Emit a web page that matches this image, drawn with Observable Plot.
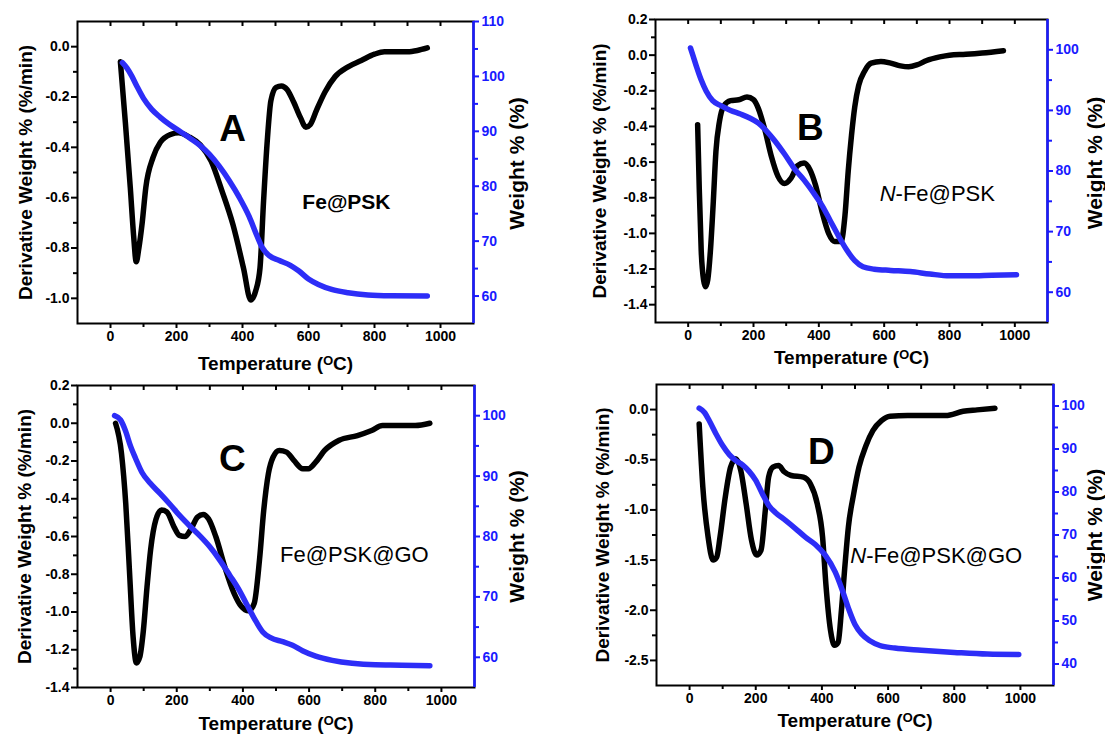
<!DOCTYPE html>
<html>
<head>
<meta charset="utf-8">
<script src="https://cdn.jsdelivr.net/npm/d3@7"></script>
<script src="https://cdn.jsdelivr.net/npm/@observablehq/plot@0.6"></script>
<style>
  html, body { margin: 0; padding: 0; background: #fff; }
  #root { position: relative; width: 1105px; height: 734px; overflow: hidden; background: #fff; }
  .panel { position: absolute; }
</style>
</head>
<body>
<div id="root"></div>
<script>
// ---------------- DATA ----------------
// Panel A: Fe@PSK
const aDtgT = [30,45,60,70,78,86,96,107,129,151,184,206,240,272,305,338,371,403,425,440,453,464,475,486,502,518,535,555,575,592,605,625,650,680,720,760,800,830,900,930,960];
const aDtgV = [-0.06,-0.30,-0.56,-0.75,-0.855,-0.80,-0.70,-0.56,-0.44,-0.38,-0.348,-0.342,-0.36,-0.39,-0.455,-0.574,-0.707,-0.88,-1.007,-0.97,-0.88,-0.61,-0.375,-0.215,-0.162,-0.156,-0.17,-0.22,-0.28,-0.32,-0.31,-0.25,-0.18,-0.12,-0.08,-0.055,-0.03,-0.02,-0.02,-0.015,-0.005];
const aTgaT = [36,50,65,80,100,125,150,180,210,240,270,300,330,360,390,420,445,460,480,510,545,570,600,630,670,720,780,850,960];
const aTgaW = [102.5,101.5,100,98.2,96,94,92.6,91.2,90,88.8,87.5,85.8,83.6,81,78,74.5,70.8,68.8,67.4,66.5,65.6,64.6,63.1,62.1,61.2,60.6,60.2,60.05,60.0];

// Panel B: N-Fe@PSK
const bDtgT = [29,34,40,47,53,60,68,77,85,96,109,130,155,180,200,215,235,255,275,295,315,335,355,372,390,410,430,448,468,480,490,500,510,522,540,560,590,620,650,675,700,730,770,800,850,900,965];
const bDtgV = [-0.39,-0.75,-1.10,-1.26,-1.30,-1.26,-1.10,-0.82,-0.54,-0.37,-0.285,-0.255,-0.25,-0.235,-0.25,-0.30,-0.42,-0.57,-0.68,-0.72,-0.69,-0.62,-0.605,-0.64,-0.73,-0.88,-1.0,-1.045,-1.045,-0.90,-0.65,-0.45,-0.29,-0.17,-0.09,-0.045,-0.035,-0.045,-0.06,-0.065,-0.055,-0.03,-0.01,0.0,0.005,0.012,0.025];
const bTgaT = [7,15,25,40,55,75,100,130,160,190,215,240,265,295,325,355,385,410,435,460,485,510,535,570,620,680,740,800,860,930,1005];
const bTgaW = [100.3,99,97.3,95,93.2,91.6,90.8,90,89.4,88.7,87.9,86.6,85.0,82.8,80.4,78.5,76.3,74.3,71.8,69.3,67.0,65.2,64.2,63.8,63.6,63.4,63.0,62.7,62.7,62.8,62.9];

// Panel C: Fe@PSK@GO
const cDtgT = [15,33,46,57,68,78,88,99,110,121,137,154,170,192,208,225,241,263,280,296,318,345,373,395,417,434,450,463,477,491,510,532,554,581,598,620,647,691,746,789,822,877,921,965];
const cDtgV = [0.0,-0.16,-0.43,-0.78,-1.13,-1.27,-1.24,-1.10,-0.87,-0.67,-0.51,-0.46,-0.47,-0.55,-0.594,-0.60,-0.567,-0.497,-0.483,-0.506,-0.60,-0.76,-0.90,-0.97,-0.994,-0.955,-0.726,-0.46,-0.267,-0.18,-0.144,-0.153,-0.197,-0.241,-0.241,-0.206,-0.144,-0.09,-0.065,-0.038,-0.012,-0.012,-0.012,0.0];
const cTgaT = [12,30,45,60,75,95,120,150,180,210,240,270,300,330,360,390,415,440,460,485,520,550,580,620,670,730,800,880,965];
const cTgaW = [100,99.3,97.5,95,93,90.6,88.8,87.1,85.3,83.4,81.7,80.1,78.3,76.1,73.6,71,68.4,65.9,64.2,63.2,62.6,62.0,61.1,60.2,59.5,59.0,58.75,58.7,58.6];

// Panel D: N-Fe@PSK@GO
const dDtgT = [29,40,56,71,82,92,108,124,140,155,171,187,203,216,229,239,252,269,286,307,344,365,386,402,412,426,438,449,459,470,480,496,512,533,554,580,606,659,722,774,827,869,923];
const dDtgV = [-0.143,-0.77,-1.27,-1.50,-1.47,-1.27,-0.87,-0.574,-0.49,-0.61,-0.94,-1.30,-1.45,-1.40,-1.0,-0.67,-0.574,-0.557,-0.62,-0.657,-0.674,-0.74,-0.94,-1.27,-1.74,-2.20,-2.35,-2.32,-2.0,-1.54,-1.17,-0.84,-0.574,-0.36,-0.21,-0.11,-0.066,-0.06,-0.06,-0.06,-0.017,-0.003,0.013];
const dTgaT = [29,45,60,80,100,120,140,160,180,200,220,240,260,290,320,350,380,410,440,460,480,500,520,545,575,620,700,800,900,995];
const dTgaW = [99.5,98.5,96.5,93.5,90.8,88.7,87.3,86.3,84.8,82.7,79.6,76.8,75.2,73.4,71.5,69.5,67.8,65.3,61.4,57.5,53,49.2,47,45.4,44.3,43.7,43.2,42.7,42.3,42.2];

// Tick labels
const xMajor = [0,200,400,600,800,1000];
const xMinor = [100,300,500,700,900];
const xTop = [0,100,200,300,400,500,600,700,800,900,1000];
const aLeftMajor = [0,-0.2,-0.4,-0.6,-0.8,-1.0];
const aLeftMinor = [-0.1,-0.3,-0.5,-0.7,-0.9];
const aRightMajor = [60,70,80,90,100,110];
const aRightMinor = [65,75,85,95,105];
const bcLeftMajor = [0.2,0,-0.2,-0.4,-0.6,-0.8,-1.0,-1.2,-1.4];
const bcLeftMinor = [0.1,-0.1,-0.3,-0.5,-0.7,-0.9,-1.1,-1.3];
const bcRightMajor = [60,70,80,90,100];
const bcRightMinor = [65,75,85,95];
const dLeftMajor = [0,-0.5,-1.0,-1.5,-2.0,-2.5];
const dLeftMinor = [-0.25,-0.75,-1.25,-1.75,-2.25];
const dRightMajor = [40,50,60,70,80,90,100];
const dRightMinor = [45,55,65,75,85,95];

const xLabel = "Temperature (\u1D3CC)";
const leftLabel = "Derivative Weight % (%/min)";
const rightLabel = "Weight % (%)";

// ---------------- DRAWING ----------------
const BLUE_LINE = "#2d2df7";
const BLUE_AXIS = "#1a1aff";
const FONT = "'Liberation Sans', Arial, Helvetica, sans-serif";

function panel(cfg) {
  const yR = d3.scaleLinear(cfg.rDomain, cfg.lDomain);
  const dtg = cfg.dtgT.map((t, i) => ({t, v: cfg.dtgV[i]}));
  const tga = cfg.tgaT.map((t, i) => ({t, w: cfg.tgaW[i]}));
  const xDomain = [-100, 1100];
  const marks = [
    Plot.frame({stroke: "black", strokeWidth: 2}),
    Plot.ruleX([xDomain[1]], {stroke: BLUE_AXIS, strokeWidth: 2.5}),
    // bottom x axis
    Plot.axisX(xMajor, {anchor: "bottom", tickSize: 5, tickPadding: 3, strokeWidth: 2, tickFormat: d => String(d), fontSize: 14, fontWeight: "bold", label: null}),
    Plot.axisX(xMinor, {anchor: "bottom", tickSize: 4, strokeWidth: 2, tickFormat: () => "", label: null}),
    // top inner ticks
    Plot.axisX(xTop, {anchor: "top", tickSize: -4, strokeWidth: 2, tickFormat: () => "", label: null}),
    // left axis
    Plot.axisY(cfg.leftMajor, {anchor: "left", tickSize: 6, tickPadding: 2, strokeWidth: 2, tickFormat: d => d.toFixed(1), fontSize: 14, fontWeight: "bold", label: null}),
    Plot.axisY(cfg.leftMinor, {anchor: "left", tickSize: 4, strokeWidth: 2, tickFormat: () => "", label: null}),
    // right axis (weight %), mapped onto the derivative scale
    Plot.axisY(cfg.rightMajor.map(yR), {anchor: "right", tickSize: 5, tickPadding: 3, strokeWidth: 2, stroke: BLUE_AXIS, fill: BLUE_AXIS, tickFormat: d => String(Math.round(yR.invert(d))), fontSize: 14, fontWeight: "bold", label: null}),
    Plot.axisY(cfg.rightMinor.map(yR), {anchor: "right", tickSize: 4, strokeWidth: 2, stroke: BLUE_AXIS, tickFormat: () => "", label: null}),
    // curves
    Plot.line(dtg, {x: "t", y: "v", stroke: "black", strokeWidth: 5.5, curve: "monotone-x", strokeLinecap: "round", strokeLinejoin: "round"}),
    Plot.line(tga, {x: "t", y: d => yR(d.w), stroke: BLUE_LINE, strokeWidth: 5.5, curve: "monotone-x", strokeLinecap: "round", strokeLinejoin: "round"}),
    // axis titles
    Plot.text([xLabel], {text: d => d, frameAnchor: "bottom", textAnchor: "middle", lineAnchor: "middle", dy: cfg.xLabelDy, fontSize: 19, fontWeight: "bold", fill: "black"}),
    Plot.text([leftLabel], {text: d => d, frameAnchor: "left", textAnchor: "middle", lineAnchor: "middle", rotate: -90, dx: cfg.lLabelDx, fontSize: 19, fontWeight: "bold", fill: "black"}),
    Plot.text([rightLabel], {text: d => d, frameAnchor: "right", textAnchor: "middle", lineAnchor: "middle", rotate: -90, dx: cfg.rLabelDx, dy: cfg.rLabelDy, fontSize: 21, fontWeight: "bold", fill: "black"}),
    // annotations
    Plot.text([cfg.letter], {text: d => d, x: cfg.letterPos[0], y: cfg.letterPos[1], fontSize: 37, fontWeight: "bold", fill: "black"}),
  ];
  if (cfg.italic) {
    marks.push(Plot.text([cfg.italic], {text: d => d, x: cfg.namePos[0], y: cfg.namePos[1], textAnchor: "end", fontStyle: "italic", fontSize: cfg.nameSize, fontWeight: cfg.nameWeight, fill: "black"}));
    marks.push(Plot.text([cfg.name], {text: d => d, x: cfg.namePos[0], y: cfg.namePos[1], textAnchor: "start", fontSize: cfg.nameSize, fontWeight: cfg.nameWeight, fill: "black"}));
  } else {
    marks.push(Plot.text([cfg.name], {text: d => d, x: cfg.namePos[0], y: cfg.namePos[1], fontSize: cfg.nameSize, fontWeight: cfg.nameWeight, fill: "black"}));
  }
  const svg = Plot.plot({
    width: cfg.width, height: cfg.height,
    marginLeft: cfg.m[0], marginRight: cfg.m[1], marginTop: cfg.m[2], marginBottom: cfg.m[3],
    x: {domain: xDomain},
    y: {domain: cfg.lDomain},
    style: {fontFamily: FONT, background: "transparent", overflow: "visible", color: "black"},
    marks
  });
  const wrap = document.createElement("div");
  wrap.className = "panel";
  wrap.style.left = cfg.pos[0] + "px";
  wrap.style.top = cfg.pos[1] + "px";
  wrap.appendChild(svg);
  document.getElementById("root").appendChild(wrap);
}

panel({pos: [0, 0], width: 552, height: 367, m: [77, 79, 21, 44],
  lDomain: [-1.1, 0.1], rDomain: [55, 110],
  leftMajor: aLeftMajor, leftMinor: aLeftMinor, rightMajor: aRightMajor, rightMinor: aRightMinor,
  dtgT: aDtgT, dtgV: aDtgV, tgaT: aTgaT, tgaW: aTgaW,
  xLabelDy: 40, lLabelDx: -52, rLabelDx: 44, rLabelDy: -9,
  letter: "A", letterPos: [370, -0.327], name: "Fe@PSK", namePos: [715, -0.618], nameSize: 21, nameWeight: "bold"});

panel({pos: [552, 0], width: 553, height: 367, m: [103, 58, 19, 45],
  lDomain: [-1.5, 0.2], rDomain: [55, 105],
  leftMajor: bcLeftMajor, leftMinor: bcLeftMinor, rightMajor: bcRightMajor, rightMinor: bcRightMinor,
  dtgT: bDtgT, dtgV: bDtgV, tgaT: bTgaT, tgaW: bTgaW,
  xLabelDy: 35, lLabelDx: -56, rLabelDx: 48, rLabelDy: -8,
  letter: "B", letterPos: [374, -0.412], italic: "N", name: "-Fe@PSK", namePos: [635, -0.779], nameSize: 22, nameWeight: "normal"});

panel({pos: [0, 367], width: 552, height: 367, m: [77, 78, 18, 47],
  lDomain: [-1.4, 0.2], rDomain: [55, 105],
  leftMajor: bcLeftMajor, leftMinor: bcLeftMinor, rightMajor: bcRightMajor, rightMinor: bcRightMinor,
  dtgT: cDtgT, dtgV: cDtgV, tgaT: cTgaT, tgaW: cTgaW,
  xLabelDy: 36, lLabelDx: -53, rLabelDx: 43, rLabelDy: 0,
  letter: "C", letterPos: [368, -0.192], name: "Fe@PSK@GO", namePos: [737, -0.70], nameSize: 22, nameWeight: "normal"});

panel({pos: [552, 367], width: 553, height: 367, m: [104, 52, 17, 49],
  lDomain: [-2.75, 0.25], rDomain: [35, 105],
  leftMajor: dLeftMajor, leftMinor: dLeftMinor, rightMajor: dRightMajor, rightMinor: dRightMinor,
  dtgT: dDtgT, dtgV: dDtgV, tgaT: dTgaT, tgaW: dTgaW,
  xLabelDy: 35, lLabelDx: -54, rLabelDx: 42, rLabelDy: 0,
  letter: "D", letterPos: [398, -0.428], italic: "N", name: "-Fe@PSK@GO", namePos: [534, -1.454], nameSize: 22, nameWeight: "normal"});
</script>
</body>
</html>
